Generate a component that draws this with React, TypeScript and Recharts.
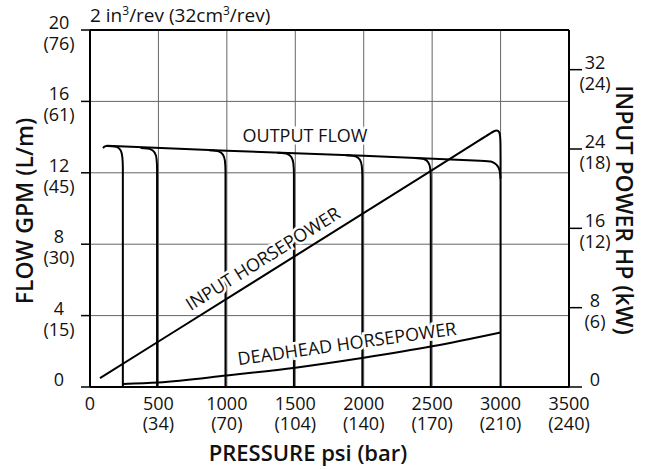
import React from 'react';
import { ComposedChart, Line, XAxis, YAxis, CartesianGrid, ReferenceLine } from 'recharts';

// axis ticks
const psiTicks = [0, 500, 1000, 1500, 2000, 2500, 3000, 3500];
const barLabels = ['', '(34)', '(70)', '(104)', '(140)', '(170)', '(210)', '(240)'];
const flowTicks = [0, 4, 8, 12, 16, 20];
const lpmLabels = ['', '(15)', '(30)', '(45)', '(61)', '(76)'];
const hpTicks = [0, 8, 16, 24, 32];
const kwLabels = ['', '(6)', '(12)', '(18)', '(24)'];

// output flow (GPM) vs pressure (psi)
const outputFlow = [
  { psi: 95, gpm: 13.38 },
  { psi: 105, gpm: 13.47 },
  { psi: 125, gpm: 13.51 },
  { psi: 1000, gpm: 13.24 },
  { psi: 2000, gpm: 12.96 },
  { psi: 2850, gpm: 12.68 },
];

// relief curves, one per setting
const relief250 = [
  { psi: 130, gpm: 13.5 }, { psi: 200, gpm: 13.44 }, { psi: 225, gpm: 13.24 },
  { psi: 236, gpm: 12.9 }, { psi: 240, gpm: 12.3 }, { psi: 240, gpm: 0 },
];
const relief500 = [
  { psi: 370, gpm: 13.39 }, { psi: 440, gpm: 13.33 }, { psi: 472, gpm: 13.14 },
  { psi: 486, gpm: 12.8 }, { psi: 490, gpm: 12.2 }, { psi: 490, gpm: 0 },
];
const relief1000 = [
  { psi: 870, gpm: 13.26 }, { psi: 940, gpm: 13.2 }, { psi: 972, gpm: 13.01 },
  { psi: 986, gpm: 12.66 }, { psi: 990, gpm: 12.08 }, { psi: 990, gpm: 0 },
];
const relief1500 = [
  { psi: 1370, gpm: 13.12 }, { psi: 1440, gpm: 13.06 }, { psi: 1472, gpm: 12.87 },
  { psi: 1486, gpm: 12.52 }, { psi: 1490, gpm: 11.94 }, { psi: 1490, gpm: 0 },
];
const relief2000 = [
  { psi: 1870, gpm: 12.98 }, { psi: 1940, gpm: 12.92 }, { psi: 1972, gpm: 12.73 },
  { psi: 1986, gpm: 12.38 }, { psi: 1990, gpm: 11.8 }, { psi: 1990, gpm: 0 },
];
const relief2500 = [
  { psi: 2370, gpm: 12.83 }, { psi: 2440, gpm: 12.77 }, { psi: 2472, gpm: 12.58 },
  { psi: 2486, gpm: 12.23 }, { psi: 2490, gpm: 11.65 }, { psi: 2490, gpm: 0 },
];
const relief3000 = [
  { psi: 2850, gpm: 12.68 }, { psi: 2930, gpm: 12.63 }, { psi: 2972, gpm: 12.44 },
  { psi: 2994, gpm: 12.1 }, { psi: 3000, gpm: 11.5 }, { psi: 3000, gpm: 0 },
];

// horsepower (HP) vs pressure
const inputHp = [
  { psi: 73, hp: 0.9 },
  { psi: 2900, hp: 25.3 },
  { psi: 2960, hp: 25.95 },
  { psi: 2995, hp: 25.8 },
  { psi: 3000, hp: 25.0 },
  { psi: 3000, hp: 21.0 },
];
const deadheadHp = [
  { psi: 240, hp: 0.3 },
  { psi: 500, hp: 0.45 },
  { psi: 1000, hp: 1.15 },
  { psi: 1500, hp: 1.95 },
  { psi: 2000, hp: 2.95 },
  { psi: 2500, hp: 4.1 },
  { psi: 3000, hp: 5.5 },
];

const reliefCurves = [relief250, relief500, relief1000, relief1500, relief2000, relief2500, relief3000];

const FONT = '"Open Sans", sans-serif';
const tickText = { fontFamily: FONT, fontSize: 18, fill: '#111' };

const PsiTick = (props: any) => {
  const { x, y, payload } = props;
  const i = psiTicks.indexOf(payload.value);
  return (
    <g>
      <text x={x} y={y + 23} textAnchor="middle" {...tickText}>{payload.value}</text>
      {barLabels[i] && <text x={x} y={y + 43} textAnchor="middle" {...tickText}>{barLabels[i]}</text>}
    </g>
  );
};

const FlowTick = (props: any) => {
  const { x, y, payload } = props;
  const i = flowTicks.indexOf(payload.value);
  return (
    <g>
      <line x1={x - 9} x2={x} y1={y} y2={y} stroke="#000" strokeWidth={1.5} />
      <text x={x - 31} y={y - 1} textAnchor="middle" {...tickText}>{payload.value}</text>
      {lpmLabels[i] && <text x={x - 31} y={y + 20} textAnchor="middle" {...tickText}>{lpmLabels[i]}</text>}
    </g>
  );
};

const HpTick = (props: any) => {
  const { x, y, payload } = props;
  const i = hpTicks.indexOf(payload.value);
  return (
    <g>
      <line x1={x} x2={x + 13} y1={y} y2={y} stroke="#000" strokeWidth={1.5} />
      <text x={x + 26} y={y - 1} textAnchor="middle" {...tickText}>{payload.value}</text>
      {kwLabels[i] && <text x={x + 26} y={y + 20} textAnchor="middle" {...tickText}>{kwLabels[i]}</text>}
    </g>
  );
};

const note = {
  fontFamily: FONT,
  fontSize: 18,
  fill: '#111',
  stroke: '#fff',
  strokeWidth: 5,
  paintOrder: 'stroke' as const,
  textAnchor: 'middle' as const,
};

const App: React.FC = () => {
  return (
    <div style={{ position: 'absolute', left: 0, top: 0, width: 648, height: 469, background: '#fff' }}>
      <ComposedChart width={648} height={469} margin={{ top: 30, right: 19, bottom: 22, left: 30 }}>
        <CartesianGrid stroke="#666" strokeWidth={1} />
        <XAxis
          dataKey="psi"
          type="number"
          domain={[0, 3500]}
          ticks={psiTicks}
          height={60}
          tickSize={0}
          tickMargin={0}
          axisLine={{ stroke: '#000', strokeWidth: 2 }}
          tickLine={false}
          tick={<PsiTick />}
          allowDataOverflow
        />
        <YAxis
          type="number"
          domain={[0, 20]}
          ticks={flowTicks}
          width={60}
          tickSize={0}
          tickMargin={0}
          axisLine={{ stroke: '#000', strokeWidth: 2 }}
          tickLine={false}
          tick={<FlowTick />}
          allowDataOverflow
        />
        <YAxis
          yAxisId="right"
          orientation="right"
          type="number"
          domain={[0, 36]}
          ticks={hpTicks}
          width={60}
          tickSize={0}
          tickMargin={0}
          axisLine={{ stroke: '#000', strokeWidth: 2 }}
          tickLine={false}
          tick={<HpTick />}
          allowDataOverflow
        />
        <ReferenceLine y={20} stroke="#000" strokeWidth={2} />
        <Line data={outputFlow} dataKey="gpm" type="linear" stroke="#000" strokeWidth={2} dot={false} isAnimationActive={false} />
        {reliefCurves.map((d, i) => (
          <Line key={i} data={d} dataKey="gpm" type="monotoneY" stroke="#000" strokeWidth={2} dot={false} isAnimationActive={false} />
        ))}
        <Line yAxisId="right" data={inputHp} dataKey="hp" type="basis" stroke="#000" strokeWidth={2} dot={false} isAnimationActive={false} />
        <Line yAxisId="right" data={deadheadHp} dataKey="hp" type="monotone" stroke="#000" strokeWidth={2} dot={false} isAnimationActive={false} />
      </ComposedChart>
      <svg width={648} height={469} style={{ position: 'absolute', left: 0, top: 0, pointerEvents: 'none' }}>
        <text x={90} y={22} fontFamily={FONT} fontSize={19} fill="#111">
          2 in<tspan dy={-7} fontSize={12}>3</tspan>
          <tspan dy={7}>/rev (32cm</tspan>
          <tspan dy={-7} fontSize={12}>3</tspan>
          <tspan dy={7}>/rev)</tspan>
        </text>
        <text x={308} y={461} textAnchor="middle" fontFamily={FONT} fontSize={22} fontWeight={600} fill="#111">
          PRESSURE psi (bar)
        </text>
        <text x={33} y={211} transform="rotate(-90, 33, 211)" textAnchor="middle" fontFamily={FONT} fontSize={23} fontWeight={600} fill="#111">
          FLOW GPM (L/m)
        </text>
        <text x={616} y={210} transform="rotate(90, 616, 210)" textAnchor="middle" fontFamily={FONT} fontSize={23} fontWeight={600} fill="#111">
          INPUT POWER HP (kW)
        </text>
        <text x={305} y={142} {...note}>OUTPUT FLOW</text>
        <text x={263} y={265} transform="rotate(-32, 263, 259)" {...note}>INPUT HORSEPOWER</text>
        <text x={347} y={350} transform="rotate(-8, 347, 344)" {...note}>DEADHEAD HORSEPOWER</text>
      </svg>
    </div>
  );
};

export default App;
